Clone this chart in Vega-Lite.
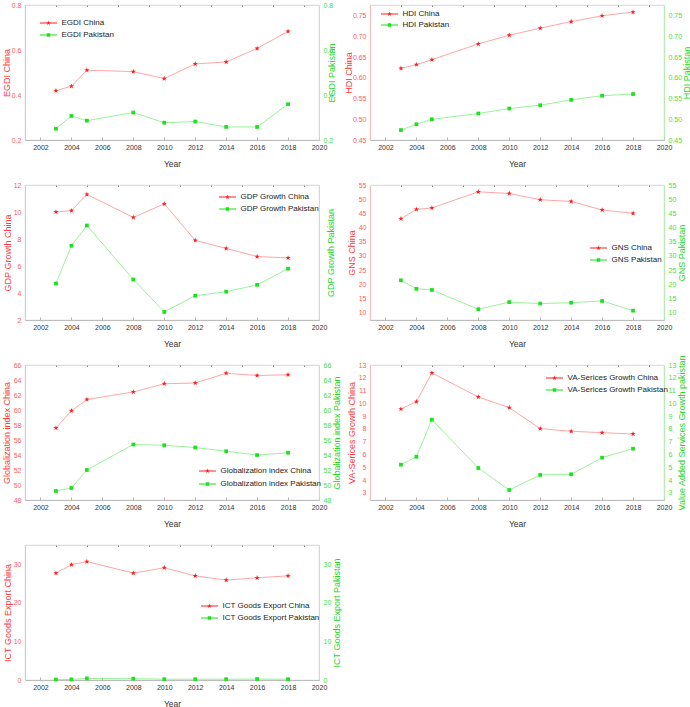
{
  "$schema": "https://vega.github.io/schema/vega-lite/v6.json",
  "padding": {"left": 1, "top": 0, "right": 0, "bottom": 0},
  "bounds": "flush",
  "columns": 2,
  "spacing": {"row": 45, "column": 51},
  "resolve": {"scale": {"color": "independent"}, "legend": {"color": "independent"}},
  "datasets": {
    "egdi": [
      {"year": 2003, "c": 0.419, "p": 0.250},
      {"year": 2004, "c": 0.439, "p": 0.307},
      {"year": 2005, "c": 0.510, "p": 0.286},
      {"year": 2008, "c": 0.504, "p": 0.322},
      {"year": 2010, "c": 0.473, "p": 0.277},
      {"year": 2012, "c": 0.538, "p": 0.282},
      {"year": 2014, "c": 0.547, "p": 0.258},
      {"year": 2016, "c": 0.607, "p": 0.258},
      {"year": 2018, "c": 0.683, "p": 0.359}
    ],
    "hdi": [
      {"year": 2003, "c": 0.623, "p": 0.474},
      {"year": 2004, "c": 0.632, "p": 0.488},
      {"year": 2005, "c": 0.644, "p": 0.500},
      {"year": 2008, "c": 0.682, "p": 0.514},
      {"year": 2010, "c": 0.703, "p": 0.526},
      {"year": 2012, "c": 0.720, "p": 0.534},
      {"year": 2014, "c": 0.736, "p": 0.547},
      {"year": 2016, "c": 0.750, "p": 0.557},
      {"year": 2018, "c": 0.759, "p": 0.561}
    ],
    "gdp": [
      {"year": 2003, "c": 10.0, "p": 4.7},
      {"year": 2004, "c": 10.1, "p": 7.5},
      {"year": 2005, "c": 11.3, "p": 9.0},
      {"year": 2008, "c": 9.6, "p": 5.0},
      {"year": 2010, "c": 10.6, "p": 2.6},
      {"year": 2012, "c": 7.9, "p": 3.8},
      {"year": 2014, "c": 7.3, "p": 4.1},
      {"year": 2016, "c": 6.7, "p": 4.6},
      {"year": 2018, "c": 6.6, "p": 5.8}
    ],
    "gns": [
      {"year": 2003, "c": 43.1, "p": 21.4},
      {"year": 2004, "c": 46.4, "p": 18.4},
      {"year": 2005, "c": 46.9, "p": 18.0},
      {"year": 2008, "c": 52.6, "p": 11.2},
      {"year": 2010, "c": 52.0, "p": 13.7},
      {"year": 2012, "c": 49.8, "p": 13.2},
      {"year": 2014, "c": 49.2, "p": 13.5},
      {"year": 2016, "c": 46.2, "p": 14.1},
      {"year": 2018, "c": 45.0, "p": 10.7}
    ],
    "glob": [
      {"year": 2003, "c": 57.6, "p": 49.2},
      {"year": 2004, "c": 59.9, "p": 49.6},
      {"year": 2005, "c": 61.4, "p": 52.0},
      {"year": 2008, "c": 62.4, "p": 55.4},
      {"year": 2010, "c": 63.5, "p": 55.3},
      {"year": 2012, "c": 63.6, "p": 55.0},
      {"year": 2014, "c": 64.9, "p": 54.5},
      {"year": 2016, "c": 64.6, "p": 54.0},
      {"year": 2018, "c": 64.7, "p": 54.3}
    ],
    "va": [
      {"year": 2003, "c": 9.56, "p": 5.21},
      {"year": 2004, "c": 10.14, "p": 5.83},
      {"year": 2005, "c": 12.38, "p": 8.73},
      {"year": 2008, "c": 10.5, "p": 4.95},
      {"year": 2010, "c": 9.67, "p": 3.23},
      {"year": 2012, "c": 8.03, "p": 4.41},
      {"year": 2014, "c": 7.82, "p": 4.46},
      {"year": 2016, "c": 7.71, "p": 5.76},
      {"year": 2018, "c": 7.61, "p": 6.46}
    ],
    "ict": [
      {"year": 2003, "c": 27.7, "p": 0.1},
      {"year": 2004, "c": 29.9, "p": 0.15},
      {"year": 2005, "c": 30.7, "p": 0.4},
      {"year": 2008, "c": 27.7, "p": 0.35},
      {"year": 2010, "c": 29.1, "p": 0.2},
      {"year": 2012, "c": 27.0, "p": 0.2},
      {"year": 2014, "c": 25.9, "p": 0.2},
      {"year": 2016, "c": 26.5, "p": 0.25},
      {"year": 2018, "c": 27.0, "p": 0.2}
    ]
  },
  "concat": [
    {
      "width": 294, "height": 135,
      "data": {"name": "egdi"},
      "layer": [
        {
          "encoding": {
            "x": {"field": "year", "type": "quantitative", "scale": {"domain": [2001, 2020], "nice": false, "zero": false}, "axis": {"title": "Year", "values": [2002, 2004, 2006, 2008, 2010, 2012, 2014, 2016, 2018, 2020], "format": "d"}},
            "y": {"field": "c", "type": "quantitative", "scale": {"domain": [0.2, 0.8], "nice": false, "zero": false}, "axis": {"orient": "left", "title": "EGDI China", "values": [0.2, 0.4, 0.6, 0.8], "format": ".1f", "titleX": -16}}},
          "layer": [
            {"mark": {"type": "line", "color": "#ff9c9c", "strokeWidth": 0.9}},
            {"mark": {"type": "point", "shape": "M0,-1L0.235,-0.324L0.951,-0.309L0.38,0.124L0.588,0.809L0,0.4L-0.588,0.809L-0.38,0.124L-0.951,-0.309L-0.235,-0.324Z", "filled": true, "size": 30, "opacity": 1},
             "encoding": {"color": {"datum": "EGDI China", "type": "nominal", "scale": {"domain": ["EGDI China", "EGDI Pakistan"], "range": ["#ff1f1f", "#1fe01f"]},
               "legend": {"orient": "none", "legendX": 19.5, "legendY": 14, "title": null, "encode": {"symbols": {"update": {"shape": {"signal": "indexof(datum.value,'China')>=0 ? 'M-3.4,-0.2H3.4V0.2H-3.4Z M0,-1L0.235,-0.324L0.951,-0.309L0.38,0.124L0.588,0.809L0,0.4L-0.588,0.809L-0.38,0.124L-0.951,-0.309L-0.235,-0.324Z' : 'M-3.4,-0.2H3.4V0.2H-3.4Z M-0.7,-0.7H0.7V0.7H-0.7Z'"}}}}}}}}
          ]
        },
        {
          "encoding": {
            "x": {"field": "year", "type": "quantitative", "scale": {"domain": [2001, 2020], "nice": false, "zero": false}, "axis": {"values": [2003, 2005, 2007, 2009, 2011, 2013, 2015, 2017, 2019], "labels": false, "title": null, "domain": false, "tickSize": -1.5}},
            "y": {"field": "p", "type": "quantitative", "scale": {"domain": [0.2, 0.8], "nice": false, "zero": false}, "axis": {"orient": "right", "title": "EGDI Pakistan", "values": [0.2, 0.4, 0.6, 0.8], "format": ".1f", "titleX": 15}}},
          "layer": [
            {"mark": {"type": "line", "color": "#8ff08f", "strokeWidth": 0.9}},
            {"mark": {"type": "point", "shape": "square", "filled": true, "size": 14, "opacity": 1},
             "encoding": {"color": {"datum": "EGDI Pakistan", "type": "nominal"}}}
          ]
        }
      ],
      "resolve": {"scale": {"y": "independent"}, "axis": {"x": "independent"}}
    },
    {
      "width": 294, "height": 135,
      "data": {"name": "hdi"},
      "layer": [
        {
          "encoding": {
            "x": {"field": "year", "type": "quantitative", "scale": {"domain": [2001, 2020], "nice": false, "zero": false}, "axis": {"title": "Year", "values": [2002, 2004, 2006, 2008, 2010, 2012, 2014, 2016, 2018, 2020], "format": "d"}},
            "y": {"field": "c", "type": "quantitative", "scale": {"domain": [0.45, 0.776], "nice": false, "zero": false}, "axis": {"orient": "left", "title": "HDI China", "values": [0.45, 0.5, 0.55, 0.6, 0.65, 0.7, 0.75], "format": ".2f", "titleX": -19}}},
          "layer": [
            {"mark": {"type": "line", "color": "#ff9c9c", "strokeWidth": 0.9}},
            {"mark": {"type": "point", "shape": "M0,-1L0.235,-0.324L0.951,-0.309L0.38,0.124L0.588,0.809L0,0.4L-0.588,0.809L-0.38,0.124L-0.951,-0.309L-0.235,-0.324Z", "filled": true, "size": 30, "opacity": 1},
             "encoding": {"color": {"datum": "HDI China", "type": "nominal", "scale": {"domain": ["HDI China", "HDI Pakistan"], "range": ["#ff1f1f", "#1fe01f"]},
               "legend": {"orient": "none", "legendX": 15.5, "legendY": 5, "title": null, "rowPadding": 3, "encode": {"symbols": {"update": {"shape": {"signal": "indexof(datum.value,'China')>=0 ? 'M-3.4,-0.2H3.4V0.2H-3.4Z M0,-1L0.235,-0.324L0.951,-0.309L0.38,0.124L0.588,0.809L0,0.4L-0.588,0.809L-0.38,0.124L-0.951,-0.309L-0.235,-0.324Z' : 'M-3.4,-0.2H3.4V0.2H-3.4Z M-0.7,-0.7H0.7V0.7H-0.7Z'"}}}}}}}}
          ]
        },
        {
          "encoding": {
            "x": {"field": "year", "type": "quantitative", "scale": {"domain": [2001, 2020], "nice": false, "zero": false}, "axis": {"values": [2003, 2005, 2007, 2009, 2011, 2013, 2015, 2017, 2019], "labels": false, "title": null, "domain": false, "tickSize": -1.5}},
            "y": {"field": "p", "type": "quantitative", "scale": {"domain": [0.45, 0.776], "nice": false, "zero": false}, "axis": {"orient": "right", "title": "HDI Pakistan", "values": [0.45, 0.5, 0.55, 0.6, 0.65, 0.7, 0.75], "format": ".2f", "titleX": 25}}},
          "layer": [
            {"mark": {"type": "line", "color": "#8ff08f", "strokeWidth": 0.9}},
            {"mark": {"type": "point", "shape": "square", "filled": true, "size": 14, "opacity": 1},
             "encoding": {"color": {"datum": "HDI Pakistan", "type": "nominal"}}}
          ]
        }
      ],
      "resolve": {"scale": {"y": "independent"}, "axis": {"x": "independent"}}
    },
    {
      "width": 294, "height": 135,
      "data": {"name": "gdp"},
      "layer": [
        {
          "encoding": {
            "x": {"field": "year", "type": "quantitative", "scale": {"domain": [2001, 2020], "nice": false, "zero": false}, "axis": {"title": "Year", "values": [2002, 2004, 2006, 2008, 2010, 2012, 2014, 2016, 2018, 2020], "format": "d"}},
            "y": {"field": "c", "type": "quantitative", "scale": {"domain": [2, 12], "nice": false, "zero": false}, "axis": {"orient": "left", "title": "GDP Growth China", "values": [2, 4, 6, 8, 10, 12], "titleX": -15}}},
          "layer": [
            {"mark": {"type": "line", "color": "#ff9c9c", "strokeWidth": 0.9}},
            {"mark": {"type": "point", "shape": "M0,-1L0.235,-0.324L0.951,-0.309L0.38,0.124L0.588,0.809L0,0.4L-0.588,0.809L-0.38,0.124L-0.951,-0.309L-0.235,-0.324Z", "filled": true, "size": 30, "opacity": 1},
             "encoding": {"color": {"datum": "GDP Growth China", "type": "nominal", "scale": {"domain": ["GDP Growth China", "GDP Growth Pakistan"], "range": ["#ff1f1f", "#1fe01f"]},
               "legend": {"orient": "none", "legendX": 198.5, "legendY": 8, "title": null, "encode": {"symbols": {"update": {"shape": {"signal": "indexof(datum.value,'China')>=0 ? 'M-3.4,-0.2H3.4V0.2H-3.4Z M0,-1L0.235,-0.324L0.951,-0.309L0.38,0.124L0.588,0.809L0,0.4L-0.588,0.809L-0.38,0.124L-0.951,-0.309L-0.235,-0.324Z' : 'M-3.4,-0.2H3.4V0.2H-3.4Z M-0.7,-0.7H0.7V0.7H-0.7Z'"}}}}}}}}
          ]
        },
        {
          "encoding": {
            "x": {"field": "year", "type": "quantitative", "scale": {"domain": [2001, 2020], "nice": false, "zero": false}, "axis": {"values": [2003, 2005, 2007, 2009, 2011, 2013, 2015, 2017, 2019], "labels": false, "title": null, "domain": false, "tickSize": -1.5}},
            "y": {"field": "p", "type": "quantitative", "scale": {"domain": [2, 12], "nice": false, "zero": false}, "axis": {"orient": "right", "title": "GDP Growth Pakistan", "labels": false, "titleX": 14}}},
          "layer": [
            {"mark": {"type": "line", "color": "#8ff08f", "strokeWidth": 0.9}},
            {"mark": {"type": "point", "shape": "square", "filled": true, "size": 14, "opacity": 1},
             "encoding": {"color": {"datum": "GDP Growth Pakistan", "type": "nominal"}}}
          ]
        }
      ],
      "resolve": {"scale": {"y": "independent"}, "axis": {"x": "independent"}}
    },
    {
      "width": 294, "height": 135,
      "data": {"name": "gns"},
      "layer": [
        {
          "encoding": {
            "x": {"field": "year", "type": "quantitative", "scale": {"domain": [2001, 2020], "nice": false, "zero": false}, "axis": {"title": "Year", "values": [2002, 2004, 2006, 2008, 2010, 2012, 2014, 2016, 2018, 2020], "format": "d"}},
            "y": {"field": "c", "type": "quantitative", "scale": {"domain": [7.4, 55], "nice": false, "zero": false}, "axis": {"orient": "left", "title": "GNS China", "values": [10, 15, 20, 25, 30, 35, 40, 45, 50, 55], "titleX": -16}}},
          "layer": [
            {"mark": {"type": "line", "color": "#ff9c9c", "strokeWidth": 0.9}},
            {"mark": {"type": "point", "shape": "M0,-1L0.235,-0.324L0.951,-0.309L0.38,0.124L0.588,0.809L0,0.4L-0.588,0.809L-0.38,0.124L-0.951,-0.309L-0.235,-0.324Z", "filled": true, "size": 30, "opacity": 1},
             "encoding": {"color": {"datum": "GNS China", "type": "nominal", "scale": {"domain": ["GNS China", "GNS Pakistan"], "range": ["#ff1f1f", "#1fe01f"]},
               "legend": {"orient": "none", "legendX": 224.5, "legendY": 59, "title": null, "encode": {"symbols": {"update": {"shape": {"signal": "indexof(datum.value,'China')>=0 ? 'M-3.4,-0.2H3.4V0.2H-3.4Z M0,-1L0.235,-0.324L0.951,-0.309L0.38,0.124L0.588,0.809L0,0.4L-0.588,0.809L-0.38,0.124L-0.951,-0.309L-0.235,-0.324Z' : 'M-3.4,-0.2H3.4V0.2H-3.4Z M-0.7,-0.7H0.7V0.7H-0.7Z'"}}}}}}}}
          ]
        },
        {
          "encoding": {
            "x": {"field": "year", "type": "quantitative", "scale": {"domain": [2001, 2020], "nice": false, "zero": false}, "axis": {"values": [2003, 2005, 2007, 2009, 2011, 2013, 2015, 2017, 2019], "labels": false, "title": null, "domain": false, "tickSize": -1.5}},
            "y": {"field": "p", "type": "quantitative", "scale": {"domain": [7.4, 55], "nice": false, "zero": false}, "axis": {"orient": "right", "title": "GNS Pakistan", "values": [10, 15, 20, 25, 30, 35, 40, 45, 50, 55], "titleX": 20}}},
          "layer": [
            {"mark": {"type": "line", "color": "#8ff08f", "strokeWidth": 0.9}},
            {"mark": {"type": "point", "shape": "square", "filled": true, "size": 14, "opacity": 1},
             "encoding": {"color": {"datum": "GNS Pakistan", "type": "nominal"}}}
          ]
        }
      ],
      "resolve": {"scale": {"y": "independent"}, "axis": {"x": "independent"}}
    },
    {
      "width": 294, "height": 135,
      "data": {"name": "glob"},
      "layer": [
        {
          "encoding": {
            "x": {"field": "year", "type": "quantitative", "scale": {"domain": [2001, 2020], "nice": false, "zero": false}, "axis": {"title": "Year", "values": [2002, 2004, 2006, 2008, 2010, 2012, 2014, 2016, 2018, 2020], "format": "d"}},
            "y": {"field": "c", "type": "quantitative", "scale": {"domain": [48, 66], "nice": false, "zero": false}, "axis": {"orient": "left", "title": "Globalization index China", "values": [48, 50, 52, 54, 56, 58, 60, 62, 64, 66], "titleX": -16}}},
          "layer": [
            {"mark": {"type": "line", "color": "#ff9c9c", "strokeWidth": 0.9}},
            {"mark": {"type": "point", "shape": "M0,-1L0.235,-0.324L0.951,-0.309L0.38,0.124L0.588,0.809L0,0.4L-0.588,0.809L-0.38,0.124L-0.951,-0.309L-0.235,-0.324Z", "filled": true, "size": 30, "opacity": 1},
             "encoding": {"color": {"datum": "Globalization index China", "type": "nominal", "scale": {"domain": ["Globalization index China", "Globalization index Pakistan"], "range": ["#ff1f1f", "#1fe01f"]},
               "legend": {"orient": "none", "legendX": 178.5, "legendY": 102, "title": null, "rowPadding": 5, "encode": {"symbols": {"update": {"shape": {"signal": "indexof(datum.value,'China')>=0 ? 'M-3.4,-0.2H3.4V0.2H-3.4Z M0,-1L0.235,-0.324L0.951,-0.309L0.38,0.124L0.588,0.809L0,0.4L-0.588,0.809L-0.38,0.124L-0.951,-0.309L-0.235,-0.324Z' : 'M-3.4,-0.2H3.4V0.2H-3.4Z M-0.7,-0.7H0.7V0.7H-0.7Z'"}}}}}}}}
          ]
        },
        {
          "encoding": {
            "x": {"field": "year", "type": "quantitative", "scale": {"domain": [2001, 2020], "nice": false, "zero": false}, "axis": {"values": [2003, 2005, 2007, 2009, 2011, 2013, 2015, 2017, 2019], "labels": false, "title": null, "domain": false, "tickSize": -1.5}},
            "y": {"field": "p", "type": "quantitative", "scale": {"domain": [48, 66], "nice": false, "zero": false}, "axis": {"orient": "right", "title": "Globalization index Pakistan", "values": [48, 50, 52, 54, 56, 58, 60, 62, 64, 66], "titleX": 20}}},
          "layer": [
            {"mark": {"type": "line", "color": "#8ff08f", "strokeWidth": 0.9}},
            {"mark": {"type": "point", "shape": "square", "filled": true, "size": 14, "opacity": 1},
             "encoding": {"color": {"datum": "Globalization index Pakistan", "type": "nominal"}}}
          ]
        }
      ],
      "resolve": {"scale": {"y": "independent"}, "axis": {"x": "independent"}}
    },
    {
      "width": 294, "height": 135,
      "data": {"name": "va"},
      "layer": [
        {
          "encoding": {
            "x": {"field": "year", "type": "quantitative", "scale": {"domain": [2001, 2020], "nice": false, "zero": false}, "axis": {"title": "Year", "values": [2002, 2004, 2006, 2008, 2010, 2012, 2014, 2016, 2018, 2020], "format": "d"}},
            "y": {"field": "c", "type": "quantitative", "scale": {"domain": [2.45, 13], "nice": false, "zero": false}, "axis": {"orient": "left", "title": "VA-Serices Growth China", "values": [3, 4, 5, 6, 7, 8, 9, 10, 11, 12, 13], "titleX": -16}}},
          "layer": [
            {"mark": {"type": "line", "color": "#ff9c9c", "strokeWidth": 0.9}},
            {"mark": {"type": "point", "shape": "M0,-1L0.235,-0.324L0.951,-0.309L0.38,0.124L0.588,0.809L0,0.4L-0.588,0.809L-0.38,0.124L-0.951,-0.309L-0.235,-0.324Z", "filled": true, "size": 30, "opacity": 1},
             "encoding": {"color": {"datum": "VA-Serices Growth China", "type": "nominal", "scale": {"domain": ["VA-Serices Growth China", "VA-Serices Growth Pakistan"], "range": ["#ff1f1f", "#1fe01f"]},
               "legend": {"orient": "none", "legendX": 180.5, "legendY": 9, "title": null, "encode": {"symbols": {"update": {"shape": {"signal": "indexof(datum.value,'China')>=0 ? 'M-3.4,-0.2H3.4V0.2H-3.4Z M0,-1L0.235,-0.324L0.951,-0.309L0.38,0.124L0.588,0.809L0,0.4L-0.588,0.809L-0.38,0.124L-0.951,-0.309L-0.235,-0.324Z' : 'M-3.4,-0.2H3.4V0.2H-3.4Z M-0.7,-0.7H0.7V0.7H-0.7Z'"}}}}}}}}
          ]
        },
        {
          "encoding": {
            "x": {"field": "year", "type": "quantitative", "scale": {"domain": [2001, 2020], "nice": false, "zero": false}, "axis": {"values": [2003, 2005, 2007, 2009, 2011, 2013, 2015, 2017, 2019], "labels": false, "title": null, "domain": false, "tickSize": -1.5}},
            "y": {"field": "p", "type": "quantitative", "scale": {"domain": [2.45, 13], "nice": false, "zero": false}, "axis": {"orient": "right", "title": "Value Added Services Growth pakistan", "values": [3, 4, 5, 6, 7, 8, 9, 10, 11, 12, 13], "titleX": 20}}},
          "layer": [
            {"mark": {"type": "line", "color": "#8ff08f", "strokeWidth": 0.9}},
            {"mark": {"type": "point", "shape": "square", "filled": true, "size": 14, "opacity": 1},
             "encoding": {"color": {"datum": "VA-Serices Growth Pakistan", "type": "nominal"}}}
          ]
        }
      ],
      "resolve": {"scale": {"y": "independent"}, "axis": {"x": "independent"}}
    },
    {
      "width": 294, "height": 135,
      "data": {"name": "ict"},
      "layer": [
        {
          "encoding": {
            "x": {"field": "year", "type": "quantitative", "scale": {"domain": [2001, 2020], "nice": false, "zero": false}, "axis": {"title": "Year", "values": [2002, 2004, 2006, 2008, 2010, 2012, 2014, 2016, 2018, 2020], "format": "d"}},
            "y": {"field": "c", "type": "quantitative", "scale": {"domain": [0, 35], "nice": false, "zero": false}, "axis": {"orient": "left", "title": "ICT Goods Export China", "values": [0, 10, 20, 30], "titleX": -15}}},
          "layer": [
            {"mark": {"type": "line", "color": "#ff9c9c", "strokeWidth": 0.9}},
            {"mark": {"type": "point", "shape": "M0,-1L0.235,-0.324L0.951,-0.309L0.38,0.124L0.588,0.809L0,0.4L-0.588,0.809L-0.38,0.124L-0.951,-0.309L-0.235,-0.324Z", "filled": true, "size": 30, "opacity": 1},
             "encoding": {"color": {"datum": "ICT Goods Export China", "type": "nominal", "scale": {"domain": ["ICT Goods Export China", "ICT Goods Export Pakistan"], "range": ["#ff1f1f", "#1fe01f"]},
               "legend": {"orient": "none", "legendX": 180.5, "legendY": 57, "title": null, "encode": {"symbols": {"update": {"shape": {"signal": "indexof(datum.value,'China')>=0 ? 'M-3.4,-0.2H3.4V0.2H-3.4Z M0,-1L0.235,-0.324L0.951,-0.309L0.38,0.124L0.588,0.809L0,0.4L-0.588,0.809L-0.38,0.124L-0.951,-0.309L-0.235,-0.324Z' : 'M-3.4,-0.2H3.4V0.2H-3.4Z M-0.7,-0.7H0.7V0.7H-0.7Z'"}}}}}}}}
          ]
        },
        {
          "encoding": {
            "x": {"field": "year", "type": "quantitative", "scale": {"domain": [2001, 2020], "nice": false, "zero": false}, "axis": {"values": [2003, 2005, 2007, 2009, 2011, 2013, 2015, 2017, 2019], "labels": false, "title": null, "domain": false, "tickSize": -1.5}},
            "y": {"field": "p", "type": "quantitative", "scale": {"domain": [0, 35], "nice": false, "zero": false}, "axis": {"orient": "right", "title": "ICT Goods Export Pakistan", "values": [0, 10, 20, 30], "titleX": 20}}},
          "layer": [
            {"mark": {"type": "line", "color": "#8ff08f", "strokeWidth": 0.9}},
            {"mark": {"type": "point", "shape": "square", "filled": true, "size": 14, "opacity": 1},
             "encoding": {"color": {"datum": "ICT Goods Export Pakistan", "type": "nominal"}}}
          ]
        }
      ],
      "resolve": {"scale": {"y": "independent"}, "axis": {"x": "independent"}}
    }
  ],
  "config": {
    "font": "Liberation Sans",
    "view": {"stroke": "#cccccc", "strokeWidth": 0.8},
    "axis": {"grid": false, "labelFont": "Liberation Sans", "titleFont": "Liberation Sans", "labelFontSize": 7, "titleFontSize": 9, "titleFontWeight": "normal", "domainWidth": 0.8, "labelFlush": false},
    "axisBottom": {"domainColor": "#b4b4b4", "tickColor": "#b4b4b4", "tickSize": -3, "labelColor": "#333333", "labelPadding": 6, "titleColor": "#333333", "titleFontSize": 8.5, "titleBaseline": "alphabetic", "titleY": 26},
    "axisLeft": {"domainColor": "#ffb4b4", "labelColor": "#ff5c5c", "titleColor": "#ff3a3a", "ticks": false, "labelPadding": 4, "titleBaseline": "alphabetic", "titleAngle": -90},
    "axisRight": {"domainColor": "#aaf2aa", "labelColor": "#45e045", "titleColor": "#22d622", "ticks": false, "labelPadding": 4, "titleBaseline": "alphabetic", "titleAngle": -90},
    "legend": {"labelFont": "Liberation Sans", "labelFontSize": 8, "labelColor": "#222222", "symbolSize": 25, "labelOffset": 9, "rowPadding": 4, "padding": 0, "symbolStrokeWidth": 0, "symbolOpacity": 1}
  }
}
